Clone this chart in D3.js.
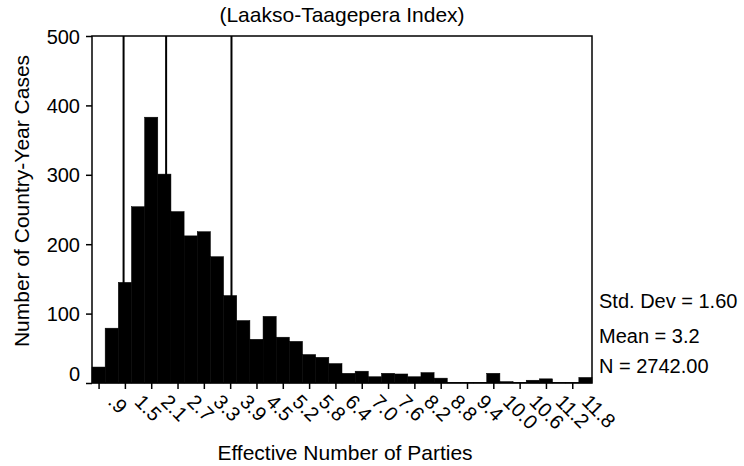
<!DOCTYPE html>
<html>
<head>
<meta charset="utf-8">
<script src="https://cdn.jsdelivr.net/npm/d3@7"></script>
<style>
  html, body { margin: 0; padding: 0; background: #fff; }
  #chart { width: 744px; height: 466px; }
  text { font-family: "Liberation Sans", Arial, sans-serif; fill: #000; }
</style>
</head>
<body>
<div id="chart"></div>
<script>
// Histogram: Effective Number of Parties (Laakso-Taagepera Index)

// bin centres (width 0.3) and counts
const binCenters = [0.9, 1.2, 1.5, 1.8, 2.1, 2.4, 2.7, 3.0, 3.3, 3.6, 3.9, 4.2, 4.5,
    4.8, 5.1, 5.4, 5.7, 6.0, 6.3, 6.6, 6.9, 7.2, 7.5, 7.8, 8.1, 8.4, 8.7, 9.0, 9.3,
    9.6, 9.9, 10.2, 10.5, 10.8, 11.1, 11.4, 11.7, 12.0];
const counts = [23, 79, 145, 254, 383, 301, 247, 212, 218, 182, 126, 90, 63,
    96, 66, 60, 41, 37, 28, 14, 17, 9, 14, 13, 9, 15, 7, 1, 1, 1, 14,
    2, 1, 4, 6, 1, 1, 8];
const binWidth = 0.3;

// x tick positions and their printed labels
const tickValues = [0.9, 1.5, 2.1, 2.7, 3.3, 3.9, 4.5, 5.1, 5.7, 6.3, 6.9, 7.5, 8.1,
    8.7, 9.3, 9.9, 10.5, 11.1, 11.7];
const tickLabels = [".9", "1.5", "2.1", "2.7", "3.3", "3.9", "4.5", "5.2", "5.8", "6.4",
    "7.0", "7.6", "8.2", "8.8", "9.4", "10.0", "10.6", "11.2", "11.8"];
const yTicks = [0, 100, 200, 300, 400, 500];

// vertical reference lines
const refLines = [1.47, 2.44, 3.93];

const stats = ["Std. Dev = 1.60", "Mean = 3.2", "N = 2742.00"];

const width = 744, height = 466;
const margin = { top: 36, right: 152, bottom: 83, left: 92 };
const innerWidth = width - margin.left - margin.right;
const innerHeight = height - margin.top - margin.bottom;

const svg = d3.select("#chart")
    .append("svg")
    .attr("width", width)
    .attr("height", height);

const g = svg.append("g")
    .attr("transform", `translate(${margin.left},${margin.top})`);

const x = d3.scaleLinear()
    .domain([binCenters[0] - binWidth / 2, binCenters[binCenters.length - 1] + binWidth / 2])
    .range([0, innerWidth]);

const y = d3.scaleLinear()
    .domain([0, 500])
    .range([innerHeight, 0]);

// reference lines (drawn first, bars cover their lower part)
g.selectAll("line.ref")
    .data(refLines)
    .enter()
    .append("line")
    .attr("class", "ref")
    .attr("x1", d => x(d))
    .attr("x2", d => x(d))
    .attr("y1", 0)
    .attr("y2", innerHeight)
    .attr("stroke", "#000")
    .attr("stroke-width", 2);

// bars
g.selectAll("rect.bar")
    .data(binCenters)
    .enter()
    .append("rect")
    .attr("class", "bar")
    .attr("x", d => x(d - binWidth / 2))
    .attr("width", d => x(d + binWidth / 2) - x(d - binWidth / 2))
    .attr("y", (d, i) => y(counts[i]))
    .attr("height", (d, i) => innerHeight - y(counts[i]))
    .attr("fill", "#000")
    .attr("stroke", "#000")
    .attr("stroke-width", 0.5);

// frame
g.append("rect")
    .attr("x", 0)
    .attr("y", 0)
    .attr("width", innerWidth)
    .attr("height", innerHeight)
    .attr("fill", "none")
    .attr("stroke", "#000")
    .attr("stroke-width", 1.5);

// y axis
const yAxis = g.append("g")
    .call(d3.axisLeft(y).tickValues(yTicks).tickSize(6).tickPadding(6));
yAxis.select(".domain").remove();
yAxis.selectAll("line").attr("stroke", "#000").attr("stroke-width", 1.5);
yAxis.selectAll("text")
    .attr("font-size", "20px")
    .attr("dy", d => d === 0 ? "-0.15em" : "0.35em");

// x axis
const xAxis = g.append("g")
    .attr("transform", `translate(0,${innerHeight})`)
    .call(d3.axisBottom(x).tickValues(tickValues).tickSize(6)
        .tickFormat((d, i) => tickLabels[i]));
xAxis.select(".domain").remove();
xAxis.selectAll("line").attr("stroke", "#000").attr("stroke-width", 1.5);
xAxis.selectAll("text")
    .attr("font-size", "20px")
    .attr("text-anchor", "start")
    .attr("x", 0)
    .attr("y", 0)
    .attr("dy", 0)
    .attr("transform", "translate(8,20) rotate(45)");

// title
svg.append("text")
    .attr("x", 342)
    .attr("y", 22)
    .attr("text-anchor", "middle")
    .attr("font-size", "21px")
    .text("(Laakso-Taagepera Index)");

// axis titles
svg.append("text")
    .attr("x", 345)
    .attr("y", 460)
    .attr("text-anchor", "middle")
    .attr("font-size", "21px")
    .text("Effective Number of Parties");

svg.append("text")
    .attr("transform", "rotate(-90)")
    .attr("x", -201)
    .attr("y", 29)
    .attr("text-anchor", "middle")
    .attr("font-size", "21px")
    .text("Number of Country-Year Cases");

// statistics box text
svg.selectAll("text.stat")
    .data(stats)
    .enter()
    .append("text")
    .attr("class", "stat")
    .attr("x", 599)
    .attr("y", (d, i) => [308, 343, 373][i])
    .attr("font-size", "20px")
    .text(d => d);
</script>
</body>
</html>
